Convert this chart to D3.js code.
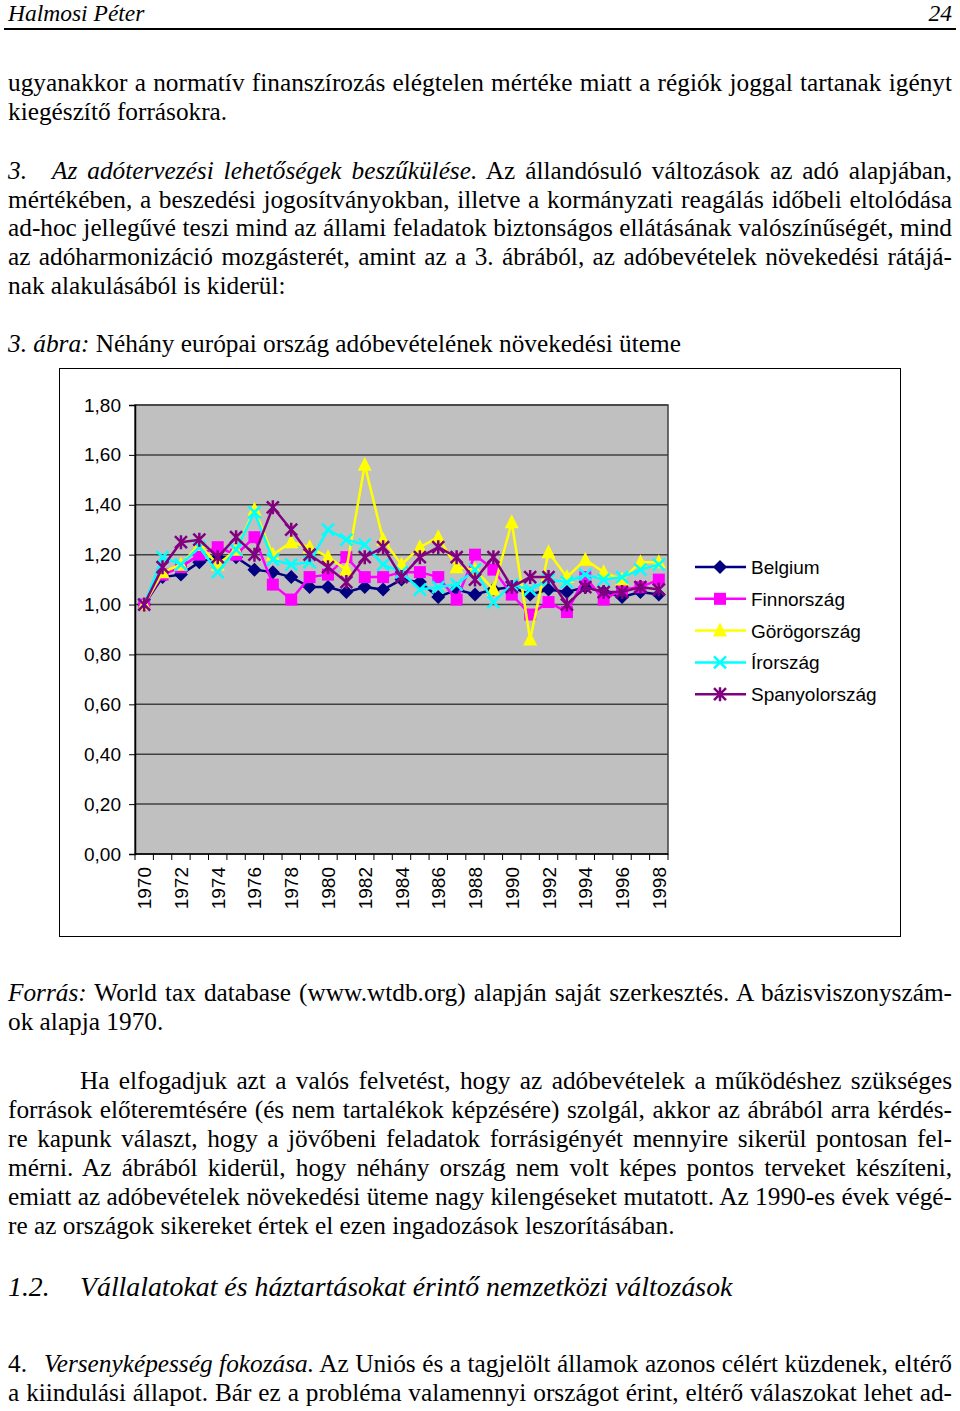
<!DOCTYPE html>
<html>
<head>
<meta charset="utf-8">
<script src="https://cdn.jsdelivr.net/npm/d3@7"></script>
<style>
  body { margin: 0; background: #fff; }
  svg { display: block; }
</style>
</head>
<body>
<script>
// years shown on the category axis, every second one gets a label
var years = d3.range(1970, 1999);
var yTicks = [0, 0.2, 0.4, 0.6, 0.8, 1.0, 1.2, 1.4, 1.6, 1.8];

var countries = ["Belgium", "Finnország", "Görögország", "Írország", "Spanyolország"];

var belgium = [1.00, 1.11, 1.12, 1.17, 1.19, 1.19, 1.14, 1.13, 1.11, 1.07, 1.07, 1.05, 1.07, 1.06, 1.10,
  1.09, 1.03, 1.06, 1.04, 1.06, 1.07, 1.04, 1.06, 1.05, 1.07, 1.05, 1.03, 1.05, 1.04];
var finnorszag = [1.00, 1.12, 1.15, 1.20, 1.23, 1.20, 1.27, 1.08, 1.02, 1.11, 1.12, 1.19, 1.11, 1.11, 1.13,
  1.13, 1.11, 1.02, 1.20, 1.14, 1.04, 0.96, 1.01, 0.97, 1.11, 1.02, 1.06, 1.07, 1.10];
var gorogorszag = [1.00, 1.13, 1.16, 1.24, 1.16, 1.22, 1.38, 1.20, 1.25, 1.23, 1.19, 1.14, 1.56, 1.26, 1.16,
  1.23, 1.27, 1.15, 1.14, 1.06, 1.33, 0.86, 1.21, 1.11, 1.18, 1.13, 1.10, 1.17, 1.17];
var irorszag = [1.00, 1.19, 1.16, 1.23, 1.13, 1.22, 1.37, 1.18, 1.16, 1.17, 1.30, 1.26, 1.24, 1.16, 1.13,
  1.06, 1.07, 1.08, 1.14, 1.01, 1.08, 1.06, 1.10, 1.09, 1.12, 1.10, 1.11, 1.14, 1.16];
var spanyolorszag = [1.00, 1.15, 1.25, 1.26, 1.19, 1.27, 1.20, 1.39, 1.30, 1.20, 1.15, 1.09, 1.19, 1.23, 1.11,
  1.19, 1.23, 1.19, 1.10, 1.19, 1.07, 1.11, 1.11, 1.00, 1.07, 1.05, 1.05, 1.07, 1.06];

var seriesValues = [belgium, finnorszag, gorogorszag, irorszag, spanyolorszag];
var colors = ["#000080", "#ff00ff", "#ffff00", "#00ffff", "#800080"];
var shapes = ["diamond", "square", "triangle", "cross", "star"];

var serif = "'Liberation Serif', 'Times New Roman', serif";
var sans = "'Liberation Sans', Arial, sans-serif";
var body = 25.3;

var W = 960, H = 1411;
var svg = d3.select("body").append("svg").attr("width", W).attr("height", H);

// ---------- page text ----------
function textLine(y, x0, x1, parts, size, justify) {
  var t = svg.append("text")
    .attr("x", x0).attr("y", y)
    .attr("font-family", serif)
    .attr("font-size", size || body)
    .attr("fill", "#000");
  parts.forEach(function(p) {
    t.append("tspan").attr("font-style", p.i ? "italic" : null).text(p.t);
  });
  if (justify) {
    var w = t.node().getComputedTextLength();
    var full = parts.map(function(p) { return p.t; }).join("");
    var spaces = (full.match(/ /g) || []).length;
    if (spaces > 0) t.attr("word-spacing", (x1 - x0 - w) / spaces);
  }
  return t;
}

// header
textLine(21, 8, 0, [{t: "Halmosi Péter", i: true}], 23.5);
textLine(21, 952, 0, [{t: "24", i: true}], 23.5).attr("text-anchor", "end");
svg.append("line").attr("x1", 4).attr("x2", 956).attr("y1", 29).attr("y2", 29)
  .attr("stroke", "#000").attr("stroke-width", 2);

textLine(91, 8, 952, [{t: "ugyanakkor a normatív finanszírozás elégtelen mértéke miatt a régiók joggal tartanak igényt"}], body, true);
textLine(120, 8, 0, [{t: "kiegészítő forrásokra."}]);

textLine(179, 8, 0, [{t: "3.", i: true}]);
textLine(179, 52, 952, [{t: "Az adótervezési lehetőségek beszűkülése.", i: true},
  {t: " Az állandósuló változások az adó alapjában,"}], body, true);
textLine(208, 8, 952, [{t: "mértékében, a beszedési jogosítványokban, illetve a kormányzati reagálás időbeli eltolódása"}], body, true);
textLine(236, 8, 952, [{t: "ad-hoc jellegűvé teszi mind az állami feladatok biztonságos ellátásának valószínűségét, mind"}], body, true);
textLine(265, 8, 952, [{t: "az adóharmonizáció mozgásterét, amint az a 3. ábrából, az adóbevételek növekedési rátájá-"}], body, true);
textLine(294, 8, 0, [{t: "nak alakulásából is kiderül:"}]);

textLine(352, 8, 0, [{t: "3. ábra:", i: true}, {t: " Néhány európai ország adóbevételének növekedési üteme"}]);

textLine(1001, 8, 952, [{t: "Forrás:", i: true},
  {t: " World tax database (www.wtdb.org) alapján saját szerkesztés. A bázisviszonyszám-"}], body, true);
textLine(1030, 8, 0, [{t: "ok alapja 1970."}]);

textLine(1089, 80, 952, [{t: "Ha elfogadjuk azt a valós felvetést, hogy az adóbevételek a működéshez szükséges"}], body, true);
textLine(1118, 8, 952, [{t: "források előteremtésére (és nem tartalékok képzésére) szolgál, akkor az ábrából arra kérdés-"}], body, true);
textLine(1147, 8, 952, [{t: "re kapunk választ, hogy a jövőbeni feladatok forrásigényét mennyire sikerül pontosan fel-"}], body, true);
textLine(1176, 8, 952, [{t: "mérni. Az ábrából kiderül, hogy néhány ország nem volt képes pontos terveket készíteni,"}], body, true);
textLine(1205, 8, 952, [{t: "emiatt az adóbevételek növekedési üteme nagy kilengéseket mutatott. Az 1990-es évek végé-"}], body, true);
textLine(1234, 8, 0, [{t: "re az országok sikereket értek el ezen ingadozások leszorításában."}]);

textLine(1296, 8, 0, [{t: "1.2.", i: true}], 27.8);
textLine(1296, 80, 0, [{t: "Vállalatokat és háztartásokat érintő nemzetközi változások", i: true}], 27.8);

textLine(1372, 8, 0, [{t: "4."}]);
textLine(1372, 44, 952, [{t: "Versenyképesség fokozása.", i: true},
  {t: " Az Uniós és a tagjelölt államok azonos célért küzdenek, eltérő"}], body, true);
textLine(1401, 8, 952, [{t: "a kiindulási állapot. Bár ez a probléma valamennyi országot érint, eltérő válaszokat lehet ad-"}], body, true);

// ---------- chart ----------
svg.append("rect").attr("x", 59.5).attr("y", 368.5).attr("width", 841).attr("height", 568)
  .attr("fill", "#fff").attr("stroke", "#000").attr("stroke-width", 1);

var plot = {left: 135, right: 668, top: 405, bottom: 854};

var x = d3.scaleBand().domain(years).range([plot.left, plot.right]);
var y = d3.scaleLinear().domain([0, 1.8]).range([plot.bottom, plot.top]);

svg.append("rect")
  .attr("x", plot.left).attr("y", plot.top)
  .attr("width", plot.right - plot.left).attr("height", plot.bottom - plot.top)
  .attr("fill", "#c0c0c0");

// gridlines
svg.append("g").selectAll("line").data(yTicks.slice(1)).enter().append("line")
  .attr("x1", plot.left).attr("x2", plot.right)
  .attr("y1", function(d) { return y(d); }).attr("y2", function(d) { return y(d); })
  .attr("stroke", "#404040").attr("stroke-width", 1.5);

svg.append("rect")
  .attr("x", plot.left).attr("y", plot.top)
  .attr("width", plot.right - plot.left).attr("height", plot.bottom - plot.top)
  .attr("fill", "none").attr("stroke", "#404040").attr("stroke-width", 1.5);

// y axis
var fmt = function(d) { return d3.format(".2f")(d).replace(".", ","); };
var yAxis = svg.append("g")
  .attr("transform", "translate(" + plot.left + ",0)")
  .call(d3.axisLeft(y).tickValues(yTicks).tickFormat(fmt).tickSize(6).tickPadding(8));
yAxis.select(".domain").attr("stroke", "#000").attr("stroke-width", 1.5);
yAxis.selectAll(".tick line").attr("stroke", "#000");
yAxis.selectAll("text").attr("font-family", sans).attr("font-size", 19).attr("fill", "#000");

// x axis: ticks at category boundaries
var boundaries = years.map(function(d) { return x(d); }).concat([plot.right]);
svg.append("g").selectAll("line").data(boundaries).enter().append("line")
  .attr("x1", function(d) { return d; }).attr("x2", function(d) { return d; })
  .attr("y1", plot.bottom).attr("y2", plot.bottom + 6)
  .attr("stroke", "#000");
svg.append("line").attr("x1", plot.left).attr("x2", plot.right)
  .attr("y1", plot.bottom).attr("y2", plot.bottom).attr("stroke", "#000").attr("stroke-width", 1.5);

svg.append("g").selectAll("text").data(years.filter(function(d) { return d % 2 === 0; }))
  .enter().append("text")
  .attr("transform", function(d) {
    return "translate(" + (x(d) + x.bandwidth() / 2 + 7) + "," + (plot.bottom + 13) + ") rotate(-90)";
  })
  .attr("text-anchor", "end")
  .attr("font-family", sans).attr("font-size", 19)
  .text(function(d) { return d; });

// markers
function marker(g, shape, color, cx, cy) {
  var s = 6;
  if (shape === "diamond") {
    g.append("path").attr("d", "M" + cx + "," + (cy - s - 1) + "L" + (cx + s + 1) + "," + cy +
      "L" + cx + "," + (cy + s + 1) + "L" + (cx - s - 1) + "," + cy + "Z").attr("fill", color);
  } else if (shape === "square") {
    g.append("rect").attr("x", cx - s).attr("y", cy - s).attr("width", 2 * s).attr("height", 2 * s)
      .attr("fill", color);
  } else if (shape === "triangle") {
    g.append("path").attr("d", "M" + cx + "," + (cy - s - 2) + "L" + (cx + s + 1) + "," + (cy + s) +
      "L" + (cx - s - 1) + "," + (cy + s) + "Z").attr("fill", color);
  } else if (shape === "cross") {
    g.append("path").attr("d", "M" + (cx - s) + "," + (cy - s) + "L" + (cx + s) + "," + (cy + s) +
      "M" + (cx - s) + "," + (cy + s) + "L" + (cx + s) + "," + (cy - s))
      .attr("stroke", color).attr("stroke-width", 2.5);
  } else {
    g.append("path").attr("d", "M" + (cx - s) + "," + (cy - s) + "L" + (cx + s) + "," + (cy + s) +
      "M" + (cx - s) + "," + (cy + s) + "L" + (cx + s) + "," + (cy - s) +
      "M" + cx + "," + (cy - s - 1) + "L" + cx + "," + (cy + s + 1))
      .attr("stroke", color).attr("stroke-width", 2.5);
  }
}

var line = d3.line()
  .x(function(d, i) { return x(years[i]) + x.bandwidth() / 2; })
  .y(function(d) { return y(d); });

seriesValues.forEach(function(vals, k) {
  var g = svg.append("g").attr("class", "series");
  g.append("path").datum(vals)
    .attr("d", line)
    .attr("fill", "none").attr("stroke", colors[k]).attr("stroke-width", 2.5);
  vals.forEach(function(v, i) {
    marker(g, shapes[k], colors[k], x(years[i]) + x.bandwidth() / 2, y(v));
  });
});

// legend
var legend = svg.append("g");
countries.forEach(function(name, k) {
  var ly = 567 + k * 31.8;
  legend.append("line").attr("x1", 695).attr("x2", 746).attr("y1", ly).attr("y2", ly)
    .attr("stroke", colors[k]).attr("stroke-width", 2.5);
  marker(legend, shapes[k], colors[k], 720, ly);
  legend.append("text").attr("x", 751).attr("y", ly + 7)
    .attr("font-family", sans).attr("font-size", 19).text(name);
});
</script>
</body>
</html>
